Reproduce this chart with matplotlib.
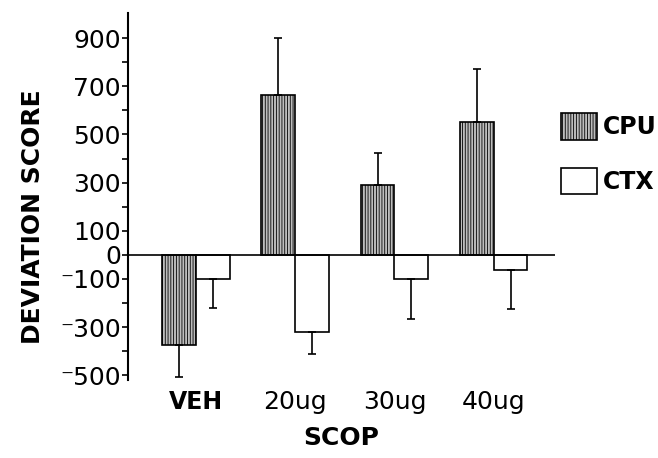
import numpy as np
import matplotlib.pyplot as plt

groups = ['VEH', '20ug', '30ug', '40ug']
cpu = [-375, 662, 292, 550]
cpu_err = [133, 238, 129, 221]
ctx = [-100, -321, -100, -62]
ctx_err = [121, 91, 167, 163]
yticks = [900, 700, 500, 300, 100, 0, -100, -300, -500]

bold = ['DejaVu Sans']
plain = ['DejaVu Sans']

fig = plt.figure(figsize=(6.58, 4.58), dpi=100)
ax = fig.add_axes([0.1945, 0.170, 0.843 - 0.1945, 0.972 - 0.170])

x = np.arange(len(groups))
w = 0.34


def one_sided(vals, errs):
    vals = np.array(vals)
    errs = np.array(errs)
    lower = np.where(vals < 0, errs, 0)
    upper = np.where(vals >= 0, errs, 0)
    return [lower, upper]


plt.rcParams['hatch.linewidth'] = 0.6
b1 = ax.bar(x - w, cpu, w, align='edge', facecolor='#bdbdbd', edgecolor='black',
            hatch='||||||', linewidth=1.2, label='CPU')
b2 = ax.bar(x, ctx, w, align='edge', facecolor='white', edgecolor='black',
            linewidth=1.2, label='CTX')
ax.errorbar(x - w / 2, cpu, yerr=one_sided(cpu, cpu_err), fmt='none', ecolor='black',
            elinewidth=1.2, capsize=3, capthick=1.2)
ax.errorbar(x + w / 2, ctx, yerr=one_sided(ctx, ctx_err), fmt='none', ecolor='black',
            elinewidth=1.2, capsize=3, capthick=1.2)

ax.axhline(0, color='black', lw=1.2)
ax.set_xlim(-0.685, 3.615)
ax.set_ylim(-520, 1005)

for s in ['top', 'right', 'bottom']:
    ax.spines[s].set_visible(False)
ax.spines['left'].set_linewidth(1.5)

ax.set_yticks(yticks)
ax.set_yticklabels([str(v) if v >= 0 else '\u207b' + str(-v) for v in yticks],
                   family=plain, fontsize=18)
ax.set_yticks(np.arange(-400, 1000, 200), minor=True)
ax.tick_params(axis='y', which='both', direction='out', length=4, width=1.2, pad=1)

ax.set_xticks(x)
ax.set_xticklabels(groups, fontsize=18, family=plain)
ax.get_xticklabels()[0].set_weight('bold')
ax.get_xticklabels()[0].set_fontsize(17)
ax.tick_params(axis='x', length=0, pad=7)

ax.set_xlabel('SCOP', family=bold, weight='bold', fontsize=18, labelpad=9)
ax.set_ylabel('DEVIATION SCORE', family=bold, weight='bold', fontsize=18)
ax.yaxis.set_label_coords(-0.194, 0.444)

ax.legend(handles=[b1, b2], loc='upper left', bbox_to_anchor=(0.853, 0.753),
          bbox_transform=fig.transFigure, frameon=False,
          prop={'family': bold, 'weight': 'bold', 'size': 17},
          handlelength=1.5, handleheight=1.35, handletextpad=0.25, labelspacing=1.2,
          borderpad=0, borderaxespad=0)

fig.savefig('out.png', dpi=100)
